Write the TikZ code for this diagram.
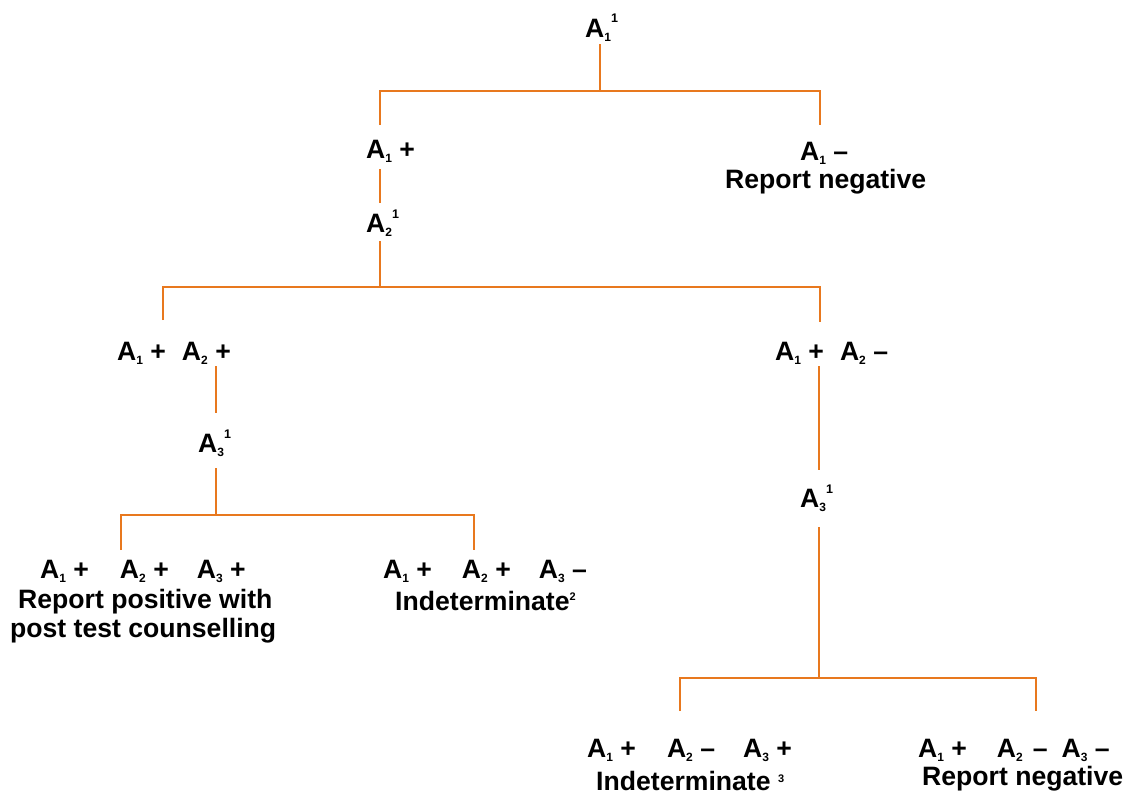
\documentclass[tikz,border=0pt]{standalone}
\usepackage{fontspec}
\setmainfont{Liberation Sans}
\definecolor{treeor}{HTML}{E8781E}
\newcommand{\sbs}[1]{\raisebox{-4.5pt}{\fontsize{12}{12}\selectfont #1}}
\newcommand{\sps}[1]{\raisebox{14pt}{\fontsize{12.5}{12.5}\selectfont #1}}
\newcommand{\Ai}[1]{A\sbs{#1}}
\begin{document}
\begin{tikzpicture}[x=1pt,y=-1pt,
  lbl/.style={inner sep=0pt, anchor=base west, font=\fontsize{26.6}{30}\bfseries\selectfont},
  br/.style={draw=treeor, line width=2pt}]
\useasboundingbox (0,0) rectangle (1127,795);
% labels
\node[lbl] (top) at (585,37) {\Ai{1}\sps{1}};
\node[lbl] (a1p) at (366,158) {\Ai{1} +};
\node[lbl] (a1m) at (800,160) {\Ai{1} --};
\node[lbl] (rn1) at (725,188) {Report negative};
\node[lbl] (a2) at (366,232) {\Ai{2}\sps{1}};
\node[lbl] (a12pp) at (117,360) {\Ai{1} +\hspace{16pt}\Ai{2} +};
\node[lbl] (a12pm) at (775,360) {\Ai{1} +\hspace{16pt}\Ai{2} --};
\node[lbl] (a3l) at (198,452) {\Ai{3}\sps{1}};
\node[lbl] (a3r) at (800,507) {\Ai{3}\sps{1}};
\node[lbl] (lf1) at (40,578) {\Ai{1} +\hspace{31pt}\Ai{2} +\hspace{28pt}\Ai{3} +};
\node[lbl] (lf1a) at (18,608) {Report positive with};
\node[lbl] (lf1b) at (10,637) {post test counselling};
\node[lbl] (lf2) at (383,578) {\Ai{1} +\hspace{30pt}\Ai{2} +\hspace{28pt}\Ai{3} --};
\node[lbl] (lf2a) at (395,610) {Indeterminate\raisebox{10pt}{\fontsize{11}{11}\selectfont 2}};
\node[lbl] (lf3) at (587,757) {\Ai{1} +\hspace{31pt}\Ai{2} --\hspace{28pt}\Ai{3} +};
\node[lbl] (lf3a) at (596,790) {Indeterminate \raisebox{8pt}{\fontsize{11}{11}\selectfont 3}};
\node[lbl] (lf4) at (918,757) {\Ai{1} +\hspace{30pt}\Ai{2}\hspace{10pt}--\hspace{14pt}\Ai{3} --};
\node[lbl] (lf4a) at (922,785) {Report negative};
% junction coordinates
\coordinate (t0) at (600,44);
\coordinate (t1) at (600,91);
\coordinate (t1l) at (380,91);
\coordinate (t1r) at (820,91);
\coordinate (t1lb) at (380,125);
\coordinate (t1rb) at (820,125);
\coordinate (p0) at (380,169);
\coordinate (p1) at (380,203);
\coordinate (q0) at (380,241);
\coordinate (q1) at (380,287);
\coordinate (q1l) at (163,287);
\coordinate (q1r) at (820,287);
\coordinate (q1lb) at (163,320);
\coordinate (q1rb) at (820,322);
\coordinate (r0) at (216,366);
\coordinate (r1) at (216,413);
\coordinate (s0) at (216,468);
\coordinate (s1) at (216,515);
\coordinate (s1l) at (121,515);
\coordinate (s1r) at (474,515);
\coordinate (s1lb) at (121,550);
\coordinate (s1rb) at (474,550);
\coordinate (u0) at (819,366);
\coordinate (u1) at (819,470);
\coordinate (v0) at (819,527);
\coordinate (v1) at (819,678);
\coordinate (v1l) at (680,678);
\coordinate (v1r) at (1036,678);
\coordinate (v1lb) at (680,711);
\coordinate (v1rb) at (1036,711);
% connectors
\draw[br] (t0) -- (t1);
\draw[br] (t1lb) -- (t1l) -- (t1r) -- (t1rb);
\draw[br] (p0) -- (p1);
\draw[br] (q0) -- (q1);
\draw[br] (q1lb) -- (q1l) -- (q1r) -- (q1rb);
\draw[br] (r0) -- (r1);
\draw[br] (s0) -- (s1);
\draw[br] (s1lb) -- (s1l) -- (s1r) -- (s1rb);
\draw[br] (u0) -- (u1);
\draw[br] (v0) -- (v1);
\draw[br] (v1lb) -- (v1l) -- (v1r) -- (v1rb);
\end{tikzpicture}
\end{document}
